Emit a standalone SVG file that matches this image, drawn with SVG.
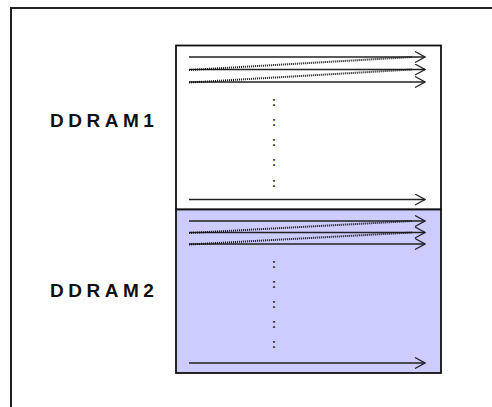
<svg xmlns="http://www.w3.org/2000/svg" width="492" height="407" viewBox="0 0 492 407">
<defs>
<marker id="ah" viewBox="0 0 12 12" refX="11" refY="6" markerWidth="12" markerHeight="12" markerUnits="userSpaceOnUse" orient="auto">
<path d="M1,0.5 L11,6 L1,11.5" fill="none" stroke="#222" stroke-width="1.2"/>
</marker>
<style>
.frame{fill:none;stroke:#222;stroke-width:2}
.box{stroke:#111;stroke-width:1.8}
.arr{stroke:#222;stroke-width:1.3;fill:none;marker-end:url(#ah)}
.dot{stroke:#111;stroke-width:2;stroke-dasharray:1 1;fill:none}
.lbl{font-family:"Liberation Sans",Arial,sans-serif;font-weight:bold;font-size:19px;letter-spacing:4.5px;fill:#111}
.col{font-family:"Liberation Sans",Arial,sans-serif;font-weight:bold;font-size:12px;fill:#222;text-anchor:middle}
</style>
</defs>
<rect width="492" height="407" fill="#fff"/>
<path class="frame" d="M11,407 L11,8 L492,8"/>
<g id="ddram1">
<rect class="box" x="176" y="45.5" width="265" height="164" fill="#fff"/>
<text class="lbl" x="50" y="127">DDRAM1</text>
</g>
<g id="ddram2">
<rect class="box" x="176" y="209.5" width="265" height="163.5" fill="#ccccff"/>
<text class="lbl" x="50" y="297">DDRAM2</text>
</g>
<g id="connectors">
<line class="arr" x1="189" y1="57" x2="425" y2="57"/>
<line class="arr" x1="189" y1="69.5" x2="425" y2="69.5"/>
<line class="arr" x1="189" y1="82" x2="425" y2="82"/>
<line class="dot" x1="189" y1="70" x2="412" y2="57"/>
<line class="dot" x1="189" y1="82.5" x2="412" y2="69.5"/>
<line class="arr" x1="189" y1="199.5" x2="425" y2="199.5"/>
<line class="arr" x1="189" y1="221" x2="425" y2="221"/>
<line class="arr" x1="189" y1="232.5" x2="425" y2="232.5"/>
<line class="arr" x1="189" y1="244" x2="425" y2="244"/>
<line class="dot" x1="189" y1="233" x2="412" y2="221"/>
<line class="dot" x1="189" y1="244.5" x2="412" y2="232.5"/>
<line class="arr" x1="189" y1="363" x2="425" y2="363"/>
</g>
<g id="ellipsis">
<text class="col" x="274" y="106">:</text>
<text class="col" x="274" y="126">:</text>
<text class="col" x="274" y="146">:</text>
<text class="col" x="274" y="166">:</text>
<text class="col" x="274" y="187">:</text>
<text class="col" x="274" y="268">:</text>
<text class="col" x="274" y="288">:</text>
<text class="col" x="274" y="308">:</text>
<text class="col" x="274" y="328">:</text>
<text class="col" x="274" y="348">:</text>
</g>
</svg>
